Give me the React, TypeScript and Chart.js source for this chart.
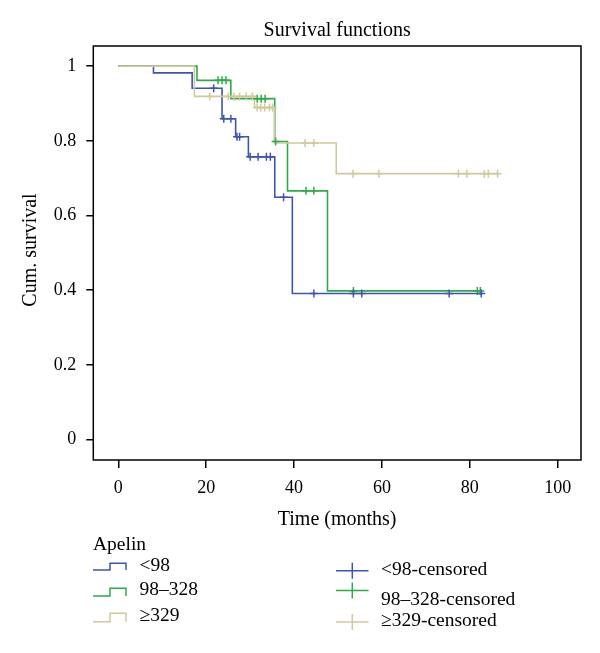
import React, { useEffect, useRef } from 'react';
import { Chart, registerables } from 'chart.js';

Chart.register(...registerables);

const FONT = "'Liberation Serif', 'DejaVu Serif', serif";

// Axis ticks
const xTicks = [0, 20, 40, 60, 80, 100];
const yTicks = [0, 0.2, 0.4, 0.6, 0.8, 1];

// Group labels & colours
const groupLabels = ['<98', '98–328', '≥329'];
const censoredLabels = ['<98-censored', '98–328-censored', '≥329-censored'];
const groupColors = ['#3d55b0', '#2eaa48', '#cfc99b'];

// Kaplan–Meier step curves (time in months, cumulative survival)
const lowTimes = [0, 8, 16.8, 23.6, 26.7, 29.6, 35.6, 39.6, 83];
const lowSurv = [1, 0.982, 0.941, 0.859, 0.811, 0.757, 0.649, 0.391, 0.391];

const midTimes = [0, 17.9, 25.6, 35.6, 38.5, 47.6, 82.6];
const midSurv = [1, 0.962, 0.913, 0.798, 0.666, 0.398, 0.398];

const highTimes = [0, 17.3, 31, 35.5, 49.6, 86.6];
const highSurv = [1, 0.919, 0.889, 0.794, 0.712, 0.712];

// Censored observations
const lowCensTimes = [21.7, 24, 25.6, 27, 27.6, 30, 31.8, 33.7, 34.6, 37.6, 44.5, 53.5, 55.4, 75.3, 82.6];
const lowCensSurv = [0.941, 0.859, 0.859, 0.811, 0.811, 0.757, 0.757, 0.757, 0.757, 0.649, 0.391, 0.391, 0.391, 0.391, 0.391];

const midCensTimes = [22.7, 23.6, 24.5, 31.6, 32.5, 33.4, 35.8, 42.7, 44.5, 53.5, 81.7, 82.4];
const midCensSurv = [0.962, 0.962, 0.962, 0.913, 0.913, 0.913, 0.798, 0.666, 0.666, 0.398, 0.398, 0.398];

const highCensTimes = [20.8, 25, 26.3, 27.6, 29.1, 30.5, 31.6, 32.4, 33.3, 34.4, 35.1, 42.5, 44.5, 53.4, 59.3, 77.4, 79.3, 83.3, 84.2, 86.3];
const highCensSurv = [0.919, 0.919, 0.919, 0.919, 0.919, 0.919, 0.889, 0.889, 0.889, 0.889, 0.889, 0.794, 0.794, 0.712, 0.712, 0.712, 0.712, 0.712, 0.712, 0.712];

const toPoints = (t: number[], s: number[]) => t.map((x, i) => ({ x, y: s[i] }));

const framePlugin = {
  id: 'frameAndText',
  beforeDatasetsDraw(chart: any) {
    const { ctx, chartArea } = chart;
    ctx.save();
    ctx.strokeStyle = '#000';
    ctx.lineWidth = 1.5;
    ctx.strokeRect(chartArea.left, chartArea.top, chartArea.right - chartArea.left, chartArea.bottom - chartArea.top);
    ctx.restore();
  },
  afterDraw(chart: any) {
    const { ctx, chartArea } = chart;
    const cx = (chartArea.left + chartArea.right) / 2;
    ctx.save();
    ctx.fillStyle = '#000';
    ctx.textBaseline = 'middle';
    ctx.textAlign = 'center';
    ctx.font = `20px ${FONT}`;
    ctx.fillText('Survival functions', cx, 31);
    ctx.fillText('Time (months)', cx, 520);
    ctx.save();
    ctx.translate(31, (chartArea.top + chartArea.bottom) / 2 - 3);
    ctx.rotate(-Math.PI / 2);
    ctx.fillText('Cum. survival', 0, 0);
    ctx.restore();

    // Legend
    ctx.textAlign = 'left';
    ctx.font = `19.5px ${FONT}`;
    ctx.fillText('Apelin', 93, 545);
    const stepRows = [
      { text: 566, low: 570, high: 563.3 },
      { text: 590, low: 596, high: 588.3 },
      { text: 615.5, low: 621.7, high: 613.3 },
    ];
    stepRows.forEach((r, i) => {
      ctx.strokeStyle = groupColors[i];
      ctx.lineWidth = 1.5;
      ctx.beginPath();
      ctx.moveTo(93, r.low);
      ctx.lineTo(110, r.low);
      ctx.lineTo(110, r.high);
      ctx.lineTo(126, r.high);
      ctx.lineTo(126, r.low);
      ctx.stroke();
      ctx.fillStyle = '#000';
      ctx.fillText(groupLabels[i], 139.5, r.text);
    });
    const crossRows = [
      { text: 569.5, icon: 570.7 },
      { text: 599.5, icon: 590.5 },
      { text: 620.5, icon: 622 },
    ];
    crossRows.forEach((r, i) => {
      ctx.strokeStyle = groupColors[i];
      ctx.lineWidth = 1.5;
      ctx.beginPath();
      ctx.moveTo(336, r.icon);
      ctx.lineTo(368.5, r.icon);
      ctx.moveTo(352.3, r.icon - 8);
      ctx.lineTo(352.3, r.icon + 8);
      ctx.stroke();
      ctx.fillStyle = '#000';
      ctx.fillText(censoredLabels[i], 381, r.text);
    });
    ctx.restore();
  },
};

export default function App() {
  const ref = useRef<HTMLCanvasElement>(null);
  useEffect(() => {
    document.body.style.margin = '0';
    const canvas = ref.current;
    if (!canvas) return;

    const stepLine = (label: string, data: any[], color: string, order: number) => ({
      type: 'line' as const,
      label,
      data,
      stepped: true,
      borderColor: color,
      backgroundColor: color,
      borderWidth: 1.6,
      pointRadius: 0,
      fill: false,
      order,
    });
    const censor = (label: string, data: any[], color: string) => ({
      type: 'scatter' as const,
      label,
      data,
      showLine: false,
      pointStyle: 'cross',
      pointRadius: 4,
      pointBorderWidth: 1.5,
      borderColor: color,
      backgroundColor: color,
      order: -1,
    });

    const chart = new Chart(canvas, {
      type: 'scatter',
      data: {
        datasets: [
          stepLine(groupLabels[0], toPoints(lowTimes, lowSurv), groupColors[0], 2),
          stepLine(groupLabels[1], toPoints(midTimes, midSurv), groupColors[1], 1),
          stepLine(groupLabels[2], toPoints(highTimes, highSurv), groupColors[2], 0),
          censor(censoredLabels[0], toPoints(lowCensTimes, lowCensSurv), groupColors[0]),
          censor(censoredLabels[1], toPoints(midCensTimes, midCensSurv), groupColors[1]),
          censor(censoredLabels[2], toPoints(highCensTimes, highCensSurv), groupColors[2]),
        ] as any,
      },
      options: {
        responsive: false,
        animation: false,
        layout: { padding: { left: 0, top: 46, right: 19, bottom: 133 } },
        plugins: {
          legend: { display: false },
          tooltip: { enabled: false },
          title: { display: false },
        },
        scales: {
          x: {
            type: 'linear',
            min: -5.7,
            max: 105.3,
            afterBuildTicks: (s: any) => {
              s.ticks = xTicks.map((v) => ({ value: v }));
            },
            afterFit: (s: any) => {
              s.height = 60;
            },
            grid: { drawOnChartArea: false, tickLength: 8, color: '#000', lineWidth: 1.5 },
            border: { display: false },
            ticks: {
              color: '#000',
              font: { family: FONT, size: 18 },
              padding: 9,
              maxRotation: 0,
              callback: (v: any) => String(Number(v)),
            },
          },
          y: {
            type: 'linear',
            min: -0.055,
            max: 1.054,
            afterBuildTicks: (s: any) => {
              s.ticks = yTicks.map((v) => ({ value: v }));
            },
            afterFit: (s: any) => {
              s.width = 93.3;
            },
            grid: { drawOnChartArea: false, tickLength: 7, color: '#000', lineWidth: 1.5 },
            border: { display: false },
            ticks: {
              color: '#000',
              font: { family: FONT, size: 18 },
              padding: 10,
              callback: (v: any) => String(Number(v)),
            },
          },
        },
      },
      plugins: [framePlugin],
    });
    return () => chart.destroy();
  }, []);

  return (
    <div style={{ width: 600, height: 653, background: '#fff' }}>
      <canvas ref={ref} width={600} height={653} style={{ display: 'block', width: 600, height: 653 }} />
    </div>
  );
}
